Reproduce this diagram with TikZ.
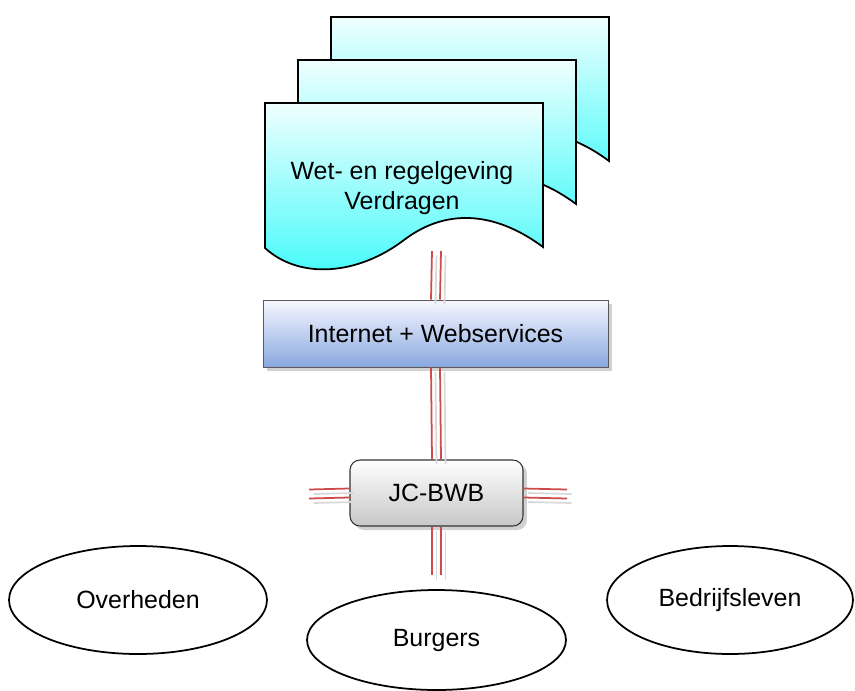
\documentclass[tikz,border=0pt]{standalone}
\usepackage{fontspec}
\setmainfont{Liberation Sans}
\usetikzlibrary{shapes.geometric,shadows}
\definecolor{pagecyan}{RGB}{64,250,250}
\definecolor{webblue}{RGB}{136,168,224}
\definecolor{wirered}{RGB}{205,75,75}
\tikzset{
 page/.style={draw=black,line width=1pt,top color=pagecyan!8,bottom color=pagecyan},
 label/.style={font=\fontsize{14.2}{17}\selectfont,inner sep=0pt},
 webbox/.style={label,draw=gray!70!black,line width=0.5pt,top color=blue!3,bottom color=webblue,
  minimum width=6.9cm,minimum height=1.34cm,
  drop shadow={shadow xshift=0.08cm,shadow yshift=-0.08cm,fill=black!30,opacity=0.6}},
 hubbox/.style={label,draw=black!80,line width=0.6pt,rounded corners=0.2cm,top color=white,bottom color=black!22,
  minimum width=3.46cm,minimum height=1.32cm,
  drop shadow={shadow xshift=0.08cm,shadow yshift=-0.08cm,fill=black!30,opacity=0.6}},
 party/.style={label,ellipse,draw=black,line width=1pt,fill=white},
 wire/.style={draw=wirered,line width=1pt},
 wireshade/.style={draw=black!15,line width=1pt}
}
\begin{document}
\begin{tikzpicture}[x=0.02cm,y=-0.02cm]
 \useasboundingbox (0,0) rectangle (855,690);
 % stacked pages, back to front
 \foreach \dx/\dy in {66/-86,33/-43,0/0}{
  \draw[page,shift={(\dx,\dy)}] (265,103) -- (543,103) -- (543,247)
   .. controls (500,215) and (450,205) .. (404,240)
   .. controls (358,275) and (300,280) .. (265,248) -- cycle;
 }
 \node[label,align=center] (doc) at (402,188) {Wet- en regelgeving\\Verdragen};
 \node[webbox] (web) at (435.5,333.5) {Internet + Webservices};
 \node[hubbox] (hub) at (436.5,493) {JC-BWB};
 \node[party,minimum width=5.16cm,minimum height=2.16cm] (gov) at (138,600) {Overheden};
 \node[party,minimum width=5.18cm,minimum height=2.0cm] (citizens) at (436.5,640) {Burgers};
 \node[party,minimum width=4.92cm,minimum height=2.16cm] (business) at (730,600) {Bedrijfsleven};
 \coordinate (docfoot) at (436.5,251);
 \coordinate (hubleft) at (309,494);
 \coordinate (hubright) at (567,494);
 \coordinate (hubfoot) at (436.5,575);
 % double wires with their shade
 \foreach \o in {-0.09,0.09}{
  \draw[wireshade] ([shift={(\o cm+0.09cm,-0.09cm)}]docfoot) -- ([shift={(\o cm+0.09cm,-0.09cm)}]web.north);
  \draw[wireshade] ([shift={(\o cm+0.09cm,-0.09cm)}]web.south) -- ([shift={(\o cm+0.09cm,-0.09cm)}]hub.north);
  \draw[wireshade] ([shift={(\o cm+0.09cm,-0.09cm)}]hub.south) -- ([shift={(\o cm+0.09cm,-0.09cm)}]hubfoot);
  \draw[wireshade] ([shift={(0.09cm,\o cm-0.09cm)}]hubleft) -- ([shift={(0.09cm,\o cm-0.09cm)}]hub.west);
  \draw[wireshade] ([shift={(0.09cm,\o cm-0.09cm)}]hub.east) -- ([shift={(0.09cm,\o cm-0.09cm)}]hubright);
  \draw[wire] ([xshift=\o cm]docfoot) -- ([xshift=\o cm]web.north);
  \draw[wire] ([xshift=\o cm]web.south) -- ([xshift=\o cm]hub.north);
  \draw[wire] ([xshift=\o cm]hub.south) -- ([xshift=\o cm]hubfoot);
  \draw[wire] ([yshift=\o cm]hubleft) -- ([yshift=\o cm]hub.west);
  \draw[wire] ([yshift=\o cm]hub.east) -- ([yshift=\o cm]hubright);
 }
\end{tikzpicture}
\end{document}
